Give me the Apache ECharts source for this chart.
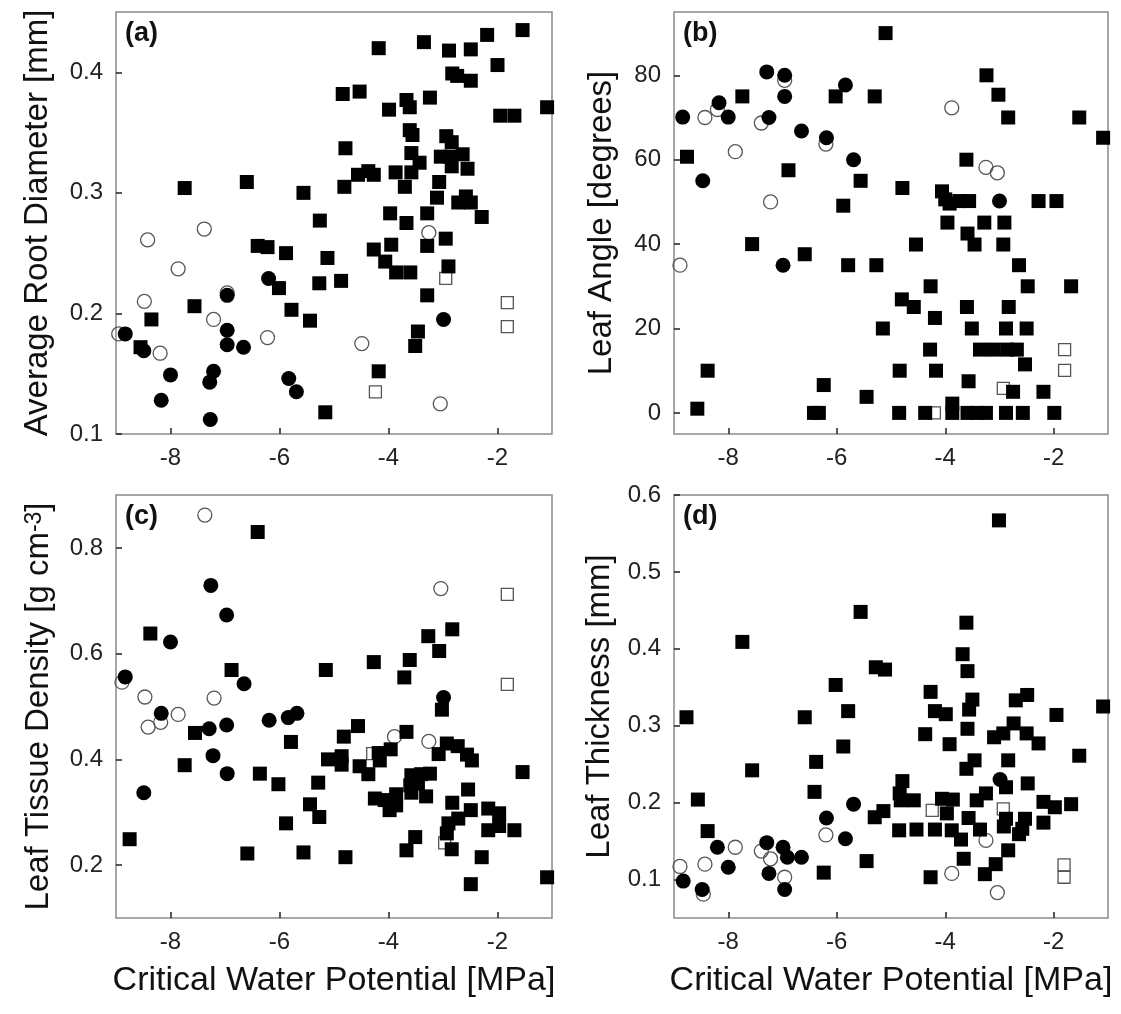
<!DOCTYPE html>
<html>
<head>
<meta charset="utf-8">
<script src="https://cdn.jsdelivr.net/npm/echarts@6/dist/echarts.min.js"></script>
<style>
  html, body { margin: 0; padding: 0; background: #fff; }
  #chart { width: 1121px; height: 1014px; }
</style>
</head>
<body>
<div id="chart"></div>
<script>
// tick labels
const xTicks = [-8, -6, -4, -2]
const aTicks = [0.1, 0.2, 0.3, 0.4]
const bTicks = [0, 20, 40, 60, 80]
const cTicks = [0.2, 0.4, 0.6, 0.8]
const dTicks = [0.1, 0.2, 0.3, 0.4, 0.5, 0.6]

// (a) average root diameter
const aSquares = [[-7.74,0.304],[-6.60,0.309],[-5.56,0.300],[-5.26,0.277],[-6.40,0.256],[-6.22,0.255],[-5.88,0.250],[-5.12,0.246],[-6.01,0.221],[-5.27,0.225],[-5.78,0.203],[-5.44,0.194],[-7.56,0.206],[-8.35,0.195],[-8.55,0.172],[-5.16,0.118],
  [-4.18,0.420],[-3.35,0.425],[-2.89,0.418],[-2.49,0.419],[-2.19,0.431],[-1.54,0.435],[-2.00,0.406],[-2.83,0.399],[-2.74,0.397],[-2.49,0.393],[-4.84,0.382],[-4.53,0.384],[-3.99,0.369],[-3.67,0.377],[-3.61,0.371],[-3.24,0.379],[-1.95,0.364],[-1.69,0.364],[-1.09,0.371],
  [-3.61,0.352],[-3.56,0.348],[-2.94,0.347],[-2.84,0.342],[-4.79,0.337],[-3.58,0.333],[-3.43,0.325],[-3.04,0.330],[-2.87,0.330],[-2.64,0.332],[-2.84,0.322],[-2.55,0.320],[-4.56,0.315],[-4.37,0.318],[-4.27,0.315],[-3.87,0.317],[-3.58,0.317],[-4.81,0.305],[-3.70,0.305],[-3.07,0.309],
  [-3.11,0.296],[-2.72,0.292],[-2.58,0.297],[-2.49,0.292],[-2.29,0.280],[-3.97,0.283],[-3.67,0.275],[-3.29,0.283],[-2.95,0.262],[-3.29,0.256],[-4.27,0.253],[-3.95,0.257],[-4.06,0.243],[-3.86,0.234],[-3.60,0.234],[-4.87,0.227],[-2.90,0.239],[-3.29,0.215],[-3.46,0.185],[-3.51,0.173],[-4.18,0.152]]
const aCircles = [[-8.83,0.183],[-8.49,0.169],[-8.00,0.149],[-8.17,0.128],[-7.27,0.112],[-7.28,0.143],[-7.21,0.152],[-6.96,0.215],[-6.96,0.186],[-6.96,0.174],[-6.66,0.172],[-6.20,0.229],[-5.83,0.146],[-5.69,0.135],[-2.99,0.195]]
const aOpenCircles = [[-8.95,0.183],[-8.42,0.261],[-7.38,0.270],[-7.86,0.237],[-8.48,0.210],[-7.21,0.195],[-8.19,0.167],[-6.22,0.180],[-6.96,0.217],[-3.26,0.267],[-4.49,0.175],[-3.05,0.125]]
const aOpenSquares = [[-2.95,0.229],[-1.82,0.209],[-1.82,0.189],[-4.24,0.135]]

// (b) leaf angle
const bSquares = [[-8.76,60.7],[-7.74,75],[-6.89,57.5],[-6.02,75],[-5.30,75],[-5.10,90],[-5.56,55],[-5.88,49.1],[-7.56,40],[-6.59,37.6],[-5.79,35],[-5.27,35],[-5.15,20],[-8.38,10],[-8.57,1],[-6.24,6.6],[-6.42,0],[-6.33,0],[-5.45,3.8],
  [-3.24,80],[-3.02,75.4],[-2.84,70],[-1.53,70],[-1.09,65.2],[-3.61,60],[-4.79,53.3],[-4.06,52.5],[-4.00,50.6],[-3.92,49.6],[-3.74,50.2],[-3.56,50.2],[-2.28,50.2],[-1.95,50.2],[-3.96,45.1],[-3.28,45.1],[-2.91,45.1],[-3.59,42.5],[-3.46,39.9],[-2.93,39.9],[-4.54,39.9],
  [-2.64,35],[-2.48,30],[-1.68,30],[-4.27,30],[-4.80,26.9],[-4.58,25.1],[-4.19,22.5],[-3.60,25.1],[-2.83,25.1],[-3.51,20],[-2.88,20],[-2.50,20],[-4.28,15],[-3.36,15],[-3.11,15],[-2.86,15],[-2.68,15],[-2.53,11.5],[-4.84,10],[-4.17,10],[-3.57,7.5],[-2.75,5],[-2.19,5],
  [-4.85,0],[-4.37,0],[-3.87,2.2],[-3.87,0],[-3.59,0],[-3.41,0],[-3.25,0],[-2.88,0],[-2.57,0],[-1.99,0]]
const bCircles = [[-8.84,70.1],[-8.47,55],[-8.17,73.5],[-8.00,70.1],[-7.29,80.8],[-6.96,80],[-6.96,75],[-7.25,70],[-6.65,66.8],[-6.19,65.2],[-5.84,77.7],[-5.69,60],[-6.99,35],[-3.00,50.2]]
const bOpenCircles = [[-8.89,35],[-8.43,70],[-8.20,71.9],[-7.87,61.9],[-7.39,68.7],[-7.22,50],[-6.96,78.8],[-6.20,63.7],[-3.88,72.3],[-3.25,58.2],[-3.04,56.9]]
const bOpenSquares = [[-1.80,15],[-1.80,10.1],[-2.93,5.8],[-4.20,0]]

// (c) leaf tissue density
const cSquares = [[-8.37,0.638],[-8.75,0.249],[-7.55,0.450],[-7.74,0.389],[-6.88,0.569],[-6.40,0.830],[-6.59,0.222],[-6.36,0.373],[-6.02,0.353],[-5.79,0.433],[-5.88,0.279],[-5.56,0.224],[-5.44,0.315],[-5.27,0.291],[-5.29,0.356],[-5.15,0.569],[-5.11,0.400],
  [-4.27,0.584],[-3.61,0.588],[-3.71,0.555],[-3.27,0.633],[-3.07,0.605],[-2.83,0.646],[-3.02,0.494],[-4.56,0.463],[-4.82,0.443],[-3.67,0.452],[-4.86,0.406],[-4.86,0.390],[-4.53,0.387],[-4.37,0.372],[-4.18,0.412],[-3.96,0.419],[-4.16,0.398],[-3.08,0.410],[-2.93,0.430],[-2.73,0.425],[-2.56,0.409],[-2.47,0.398],
  [-3.58,0.370],[-3.40,0.372],[-3.24,0.373],[-3.60,0.351],[-3.46,0.354],[-3.31,0.330],[-3.58,0.337],[-4.25,0.326],[-4.07,0.323],[-3.86,0.334],[-3.98,0.304],[-3.86,0.313],[-2.54,0.343],[-2.83,0.318],[-2.49,0.304],[-2.17,0.307],[-1.97,0.298],[-1.97,0.274],[-2.17,0.266],[-1.69,0.266],
  [-2.72,0.288],[-2.90,0.279],[-2.93,0.260],[-2.84,0.230],[-2.29,0.215],[-2.49,0.164],[-1.54,0.376],[-1.09,0.177],[-4.79,0.215],[-3.67,0.228],[-3.51,0.253]]
const cCircles = [[-8.83,0.556],[-8.49,0.337],[-8.17,0.487],[-8.00,0.622],[-7.26,0.729],[-7.29,0.458],[-7.22,0.407],[-6.97,0.673],[-6.97,0.465],[-6.96,0.373],[-6.65,0.543],[-6.19,0.474],[-5.84,0.479],[-5.68,0.487],[-2.99,0.517]]
const cOpenCircles = [[-8.89,0.546],[-8.47,0.518],[-8.41,0.461],[-8.18,0.470],[-7.86,0.485],[-7.37,0.862],[-7.20,0.516],[-3.04,0.723],[-3.89,0.443],[-3.26,0.434]]
const cOpenSquares = [[-1.82,0.712],[-1.82,0.542],[-4.29,0.411],[-2.97,0.242]]

// (d) leaf thickness
const dSquares = [[-8.77,0.311],[-8.56,0.204],[-8.38,0.163],[-7.74,0.409],[-7.56,0.242],[-6.59,0.311],[-6.38,0.253],[-6.41,0.214],[-6.24,0.109],[-6.02,0.353],[-5.79,0.319],[-5.88,0.273],[-5.56,0.448],[-5.28,0.376],[-5.11,0.373],[-5.30,0.181],[-5.14,0.189],[-5.45,0.124],
  [-3.01,0.567],[-3.61,0.434],[-3.68,0.393],[-3.59,0.371],[-4.27,0.344],[-4.19,0.319],[-3.99,0.315],[-3.50,0.334],[-3.56,0.321],[-2.70,0.333],[-2.49,0.340],[-1.95,0.314],[-1.09,0.325],[-2.74,0.303],[-2.50,0.290],[-2.93,0.290],[-3.10,0.285],[-2.28,0.277],[-4.37,0.289],[-3.92,0.276],[-3.59,0.296],
  [-1.53,0.261],[-2.84,0.255],[-3.46,0.255],[-3.61,0.244],[-4.79,0.228],[-2.48,0.225],[-2.88,0.220],[-4.84,0.212],[-4.82,0.203],[-4.58,0.203],[-4.06,0.205],[-3.86,0.204],[-3.42,0.203],[-3.25,0.212],[-2.19,0.201],[-1.98,0.194],[-1.68,0.198],
  [-3.97,0.186],[-3.57,0.180],[-2.88,0.179],[-2.53,0.179],[-2.92,0.169],[-2.58,0.166],[-2.64,0.159],[-2.19,0.174],[-4.85,0.164],[-4.53,0.165],[-4.19,0.165],[-3.88,0.164],[-3.71,0.152],[-3.36,0.165],[-2.84,0.138],[-3.66,0.127],[-3.07,0.120],[-3.27,0.107],[-4.27,0.103]]
const dCircles = [[-8.83,0.098],[-8.48,0.087],[-8.20,0.142],[-8.00,0.116],[-7.29,0.148],[-7.25,0.108],[-6.99,0.142],[-6.91,0.129],[-6.65,0.129],[-6.96,0.087],[-6.19,0.180],[-5.84,0.153],[-5.69,0.198],[-2.99,0.230]]
const dOpenCircles = [[-8.89,0.117],[-8.43,0.120],[-8.46,0.081],[-7.87,0.142],[-7.39,0.137],[-7.22,0.127],[-6.96,0.103],[-6.20,0.158],[-3.88,0.108],[-3.25,0.151],[-3.04,0.083]]
const dOpenSquares = [[-4.24,0.190],[-2.93,0.192],[-1.81,0.119],[-1.81,0.103]]

const font = 'Liberation Sans, Arial, sans-serif'
const xTitle = 'Critical Water Potential [MPa]'

const panels = [
  { tag: '(a)', grid: { left: 116, top: 12, width: 436, height: 422 }, yMin: 0.1, yMax: 0.45, yTicks: aTicks,
    yName: 'Average Root Diameter [mm]', nameGap: 62, xName: '',
    data: [aOpenSquares, aOpenCircles, aSquares, aCircles] },
  { tag: '(b)', grid: { left: 674, top: 12, width: 434, height: 422 }, yMin: -5, yMax: 95, yTicks: bTicks,
    yName: 'Leaf Angle [degrees]', nameGap: 56, xName: '',
    data: [bOpenSquares, bOpenCircles, bSquares, bCircles] },
  { tag: '(c)', grid: { left: 116, top: 495, width: 436, height: 423 }, yMin: 0.1, yMax: 0.9, yTicks: cTicks,
    yName: 'Leaf Tissue Density [g cm{sup|-3}]', nameGap: 58, xName: xTitle,
    data: [cOpenSquares, cOpenCircles, cSquares, cCircles] },
  { tag: '(d)', grid: { left: 674, top: 495, width: 434, height: 423 }, yMin: 0.05, yMax: 0.6, yTicks: dTicks,
    yName: 'Leaf Thickness [mm]', nameGap: 58, xName: xTitle,
    data: [dOpenSquares, dOpenCircles, dSquares, dCircles] }
]

const markers = [
  { symbol: 'rect', symbolSize: 12, itemStyle: { color: 'rgba(0,0,0,0)', borderColor: '#555', borderWidth: 1.3, opacity: 1 } },
  { symbol: 'circle', symbolSize: 14, itemStyle: { color: 'rgba(0,0,0,0)', borderColor: '#555', borderWidth: 1.3, opacity: 1 } },
  { symbol: 'rect', symbolSize: 14, itemStyle: { color: '#000', opacity: 1 } },
  { symbol: 'circle', symbolSize: 15, itemStyle: { color: '#000', opacity: 1 } }
]

const tickStyle = { inside: true, length: 6, lineStyle: { color: '#222', width: 1.5 } }
const labelStyle = { fontSize: 24, color: '#222', fontFamily: font }

const chart = echarts.init(document.getElementById('chart'), null, { renderer: 'canvas' })

const option = {
  animation: false,
  grid: panels.map(p => Object.assign({
    show: true, borderColor: '#8a8a8a', borderWidth: 1.5, backgroundColor: 'transparent'
  }, p.grid)),
  xAxis: panels.map((p, i) => ({
    type: 'value', gridIndex: i, min: -9, max: -1,
    axisLine: { show: false, onZero: false },
    axisTick: Object.assign({ customValues: xTicks }, tickStyle),
    axisLabel: Object.assign({ customValues: xTicks, margin: 12 }, labelStyle),
    splitLine: { show: false },
    name: p.xName, nameLocation: 'middle', nameGap: 46,
    nameTextStyle: { fontSize: 34, color: '#111', fontFamily: font }
  })),
  yAxis: panels.map((p, i) => ({
    type: 'value', gridIndex: i, min: p.yMin, max: p.yMax,
    axisLine: { show: false, onZero: false },
    axisTick: Object.assign({ customValues: p.yTicks }, tickStyle),
    axisLabel: Object.assign({ customValues: p.yTicks, margin: 13 }, labelStyle),
    splitLine: { show: false },
    name: p.yName, nameLocation: 'middle', nameGap: p.nameGap, nameRotate: 90,
    nameTextStyle: {
      fontSize: 33, color: '#111', fontFamily: font,
      rich: { sup: { fontSize: 23, lineHeight: 23, fontFamily: font, color: '#111', verticalAlign: 'top', padding: [0, 0, 20, 0] } }
    }
  })),
  series: panels.flatMap((p, i) => p.data.map((d, k) => Object.assign({
    type: 'scatter', xAxisIndex: i, yAxisIndex: i, data: d, silent: true, z: 2 + k
  }, markers[k]))),
  graphic: panels.map(p => ({
    type: 'text', left: p.grid.left + 9, top: p.grid.top + 8,
    style: { text: p.tag, fontSize: 27, fontWeight: 'bold', fontFamily: font, fill: '#111' }
  }))
}

chart.setOption(option)
</script>
</body>
</html>
